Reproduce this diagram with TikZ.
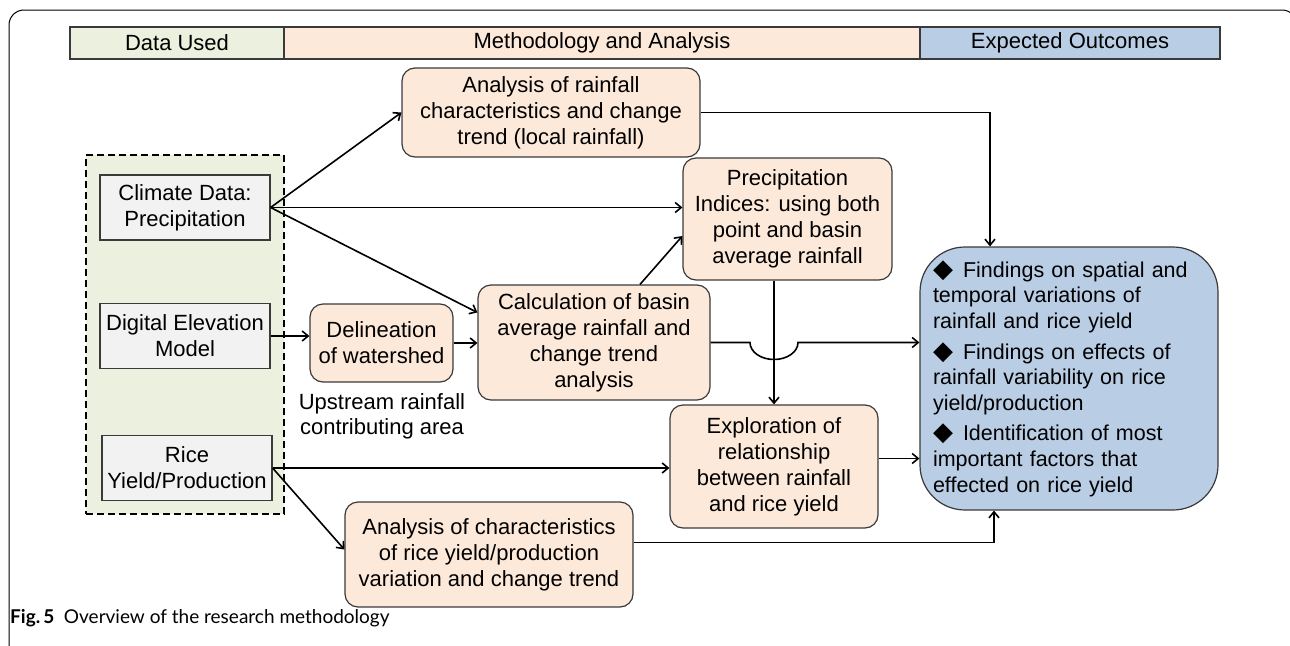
\documentclass[tikz,border=0pt]{standalone}
\usepackage{fontspec}
\setmainfont{Liberation Sans}
\newfontfamily\symfont{DejaVu Sans}
\newfontfamily\capfont{Lato}
\usepackage{tikz}
\usetikzlibrary{positioning, calc, arrows.meta}
\definecolor{datagreen}{HTML}{EBF1DE}
\definecolor{methpink}{HTML}{FDE9D9}
\definecolor{outblue}{HTML}{B9CDE5}
\definecolor{boxgray}{HTML}{F2F2F2}
\definecolor{edgegray}{HTML}{3A3A3A}
\tikzstyle{header}=[draw=edgegray, line width=1.2pt, minimum height=32pt, inner sep=0pt, font=\fontsize{22}{26}\selectfont]
\tikzstyle{data group}=[draw=black, dashed, dash pattern=on 7pt off 4pt, fill=datagreen, line width=1.2pt, minimum width=198pt, minimum height=359pt]
\tikzstyle{data box}=[draw=edgegray, fill=boxgray, line width=1.2pt, align=center, inner sep=0pt, minimum width=170pt, minimum height=65pt, font=\fontsize{22}{26}\selectfont]
\tikzstyle{method box}=[draw=edgegray, fill=methpink, line width=1.2pt, rounded corners=13pt, align=center, inner sep=0pt, font=\fontsize{22}{26}\selectfont]
\tikzstyle{outcome box}=[draw=edgegray, fill=outblue, line width=1.2pt, rounded corners=45pt, inner xsep=13pt, inner ysep=0pt, text width=272pt, minimum height=263pt, font=\fontsize{21.5}{25.6}\selectfont]
\tikzstyle{arrow}=[->, >={Straight Barb[length=6pt, width=10pt]}, line width=1.6pt]
\newcommand{\finding}[1]{\hangindent=30pt\hangafter=1\noindent\makebox[30pt][l]{\symfont\fontsize{26}{25.6}\selectfont ◆}#1\par}

\begin{document}
\begin{tikzpicture}[x=1pt, y=-1pt]
    \useasboundingbox (0,0) rectangle (1290,645);
    \draw[line width=1pt, rounded corners=15pt] (9,650) -- (9,10) -- (1297,10) -- (1297,650);

    % column headers
    \foreach \l/\col/\a/\b [count=\i] in {Data Used/datagreen/70/284, Methodology and Analysis/methpink/284/920, Expected Outcomes/outblue/920/1220}
    \node [header, fill=\col, minimum width={(\b-\a)*1pt}] (head-\i) at ({(\a+\b)/2},43) {\l};

    % data used
    \node [data group] (data) at (185,334.5) {};
    \node [data box] (clim) at (185,207.5) {Climate Data:\\Precipitation};
    \node [data box] (dem) at (185,336) {Digital Elevation\\Model};
    \node [data box] (rice) at (187,468) {Rice\\Yield/Production};

    % methodology
    \node [method box, minimum width=298pt, minimum height=89pt] (a1) at (551,112.5) {Analysis of rainfall\\characteristics and change\\trend (local rainfall)};
    \node [method box, minimum width=209pt, minimum height=122pt] (pi) at (787.5,219) {Precipitation\\Indices: using both\\point and basin\\average rainfall};
    \node [method box, minimum width=143pt, minimum height=78pt] (dw) at (381.5,343) {Delineation\\of watershed};
    \node [align=center, inner sep=0pt, font=\fontsize{22}{25}\selectfont] (up) at (382,416) {Upstream rainfall\\contributing area};
    \node [method box, minimum width=232pt, minimum height=115pt] (cb) at (594,342.5) {Calculation of basin\\average rainfall and\\change trend\\analysis};
    \node [method box, minimum width=208pt, minimum height=123pt] (ex) at (774,466.5) {Exploration of\\relationship\\between rainfall\\and rice yield};
    \node [method box, minimum width=288pt, minimum height=105pt] (ac) at (489,554.5) {Analysis of characteristics\\of rice yield/production\\variation and change trend};

    % outcomes
    \node [outcome box] (eo) at (1069,378.5) {%
      \finding{Findings on spatial and\\temporal variations of\\rainfall and rice yield}\vspace{5pt}
      \finding{Findings on effects of\\rainfall variability on rice\\yield/production}\vspace{5pt}
      \finding{Identification of most\\important factors that\\effected on rice yield}};

    % connectors
    \foreach \t in {(a1.west), (clim.east -| pi.west), ([yshift=30pt]cb.west)}
    \draw [arrow] (clim.east) -- \t;
    \draw [arrow] (dem.east) -- (dem.east -| dw.west);
    \draw [arrow] (dw.east) -- (dw.east -| cb.west);
    \draw [arrow] ([xshift=46pt]cb.north) -- ([yshift=-17pt]pi.west);
    \draw [arrow] (a1.east) -| ([xshift=-79pt]eo.north);
    \draw [arrow] (ex.north |- pi.south) -- (ex.north);
    \draw [arrow] (cb.east) -- ($(ex.north |- cb.east)+(-24,0)$)
      arc [start angle=180, end angle=360, x radius=24pt, y radius=17pt] -- (cb.east -| eo.west);
    \draw [arrow] ([yshift=8pt]ex.east) -- ([yshift=8pt]ex.east -| eo.west);
    \draw [arrow] (rice.east) -- (rice.east -| ex.west);
    \draw [arrow] (rice.east) -- ([yshift=5pt]ac.west);
    \draw [arrow] ([yshift=12pt]ac.east) -| ([xshift=-75pt]eo.south);

    % caption
    \node [anchor=west, inner sep=0pt, font=\capfont\fontsize{19}{22}\selectfont] (cap) at (10,618) {\textbf{Fig.\,5}\enspace Overview of the research methodology};
\end{tikzpicture}
\end{document}
